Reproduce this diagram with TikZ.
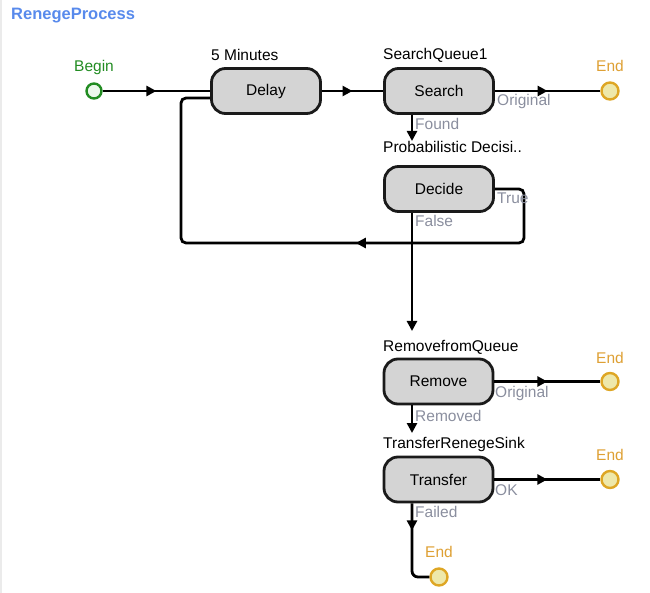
\documentclass[tikz,border=0pt]{standalone}
\usepackage{fontspec}
\setmainfont{Liberation Sans}
\usetikzlibrary{arrows.meta,decorations.markings,positioning}

\definecolor{titleblue}{RGB}{88,138,236}
\definecolor{begingreen}{RGB}{34,140,34}
\definecolor{beginfill}{RGB}{236,248,236}
\definecolor{endgold}{RGB}{222,166,36}
\definecolor{endfill}{RGB}{238,232,170}
\definecolor{endtext}{RGB}{222,160,52}
\definecolor{portgray}{RGB}{138,142,158}
\definecolor{boxfill}{RGB}{212,212,212}
\definecolor{boxline}{RGB}{26,26,26}

\tikzset{
  step box/.style={draw=boxline, fill=boxfill, line width=2.8pt,
    rounded corners=14pt, minimum width=109pt, minimum height=45pt,
    font=\fontsize{15.5}{18}\selectfont, text=black},
  beginpt/.style={circle, draw=begingreen, fill=beginfill, line width=2.4pt,
    minimum size=15pt, inner sep=0pt},
  endpt/.style={circle, draw=endgold, fill=endfill, line width=2.4pt,
    minimum size=17pt, inner sep=0pt},
  lbl/.style={font=\fontsize{15.5}{18}\selectfont, inner sep=0pt,
    text height=11pt, text depth=3pt},
  namelbl/.style={lbl, anchor=west, text=black},
  portlbl/.style={lbl, anchor=west, text=portgray},
  endlbl/.style={lbl, text=endtext},
  flow/.style={draw=black, line width=2.8pt},
  tipend/.style={-{Triangle[length=10pt,width=10pt]}},
  arrowat/.style={postaction={decorate, decoration={markings,
    mark=at position #1 with {\arrow{Triangle[length=10pt,width=10pt]}}}}}
}

\begin{document}
\begin{tikzpicture}[x=1pt,y=-1pt]
\useasboundingbox (0,0) rectangle (650,593);
\draw[black!8, line width=2pt] (1,0) -- (1,593);

% title
\node[lbl, anchor=west, text=titleblue, font=\fontsize{16.5}{19}\selectfont\bfseries] (title) at (11,16) {RenegeProcess};

% steps
\node[beginpt] (begin) at (94,91) {};
\node[lbl, text=begingreen] (beginlbl) at (94,68) {Begin};

\node[step box] (delay) at (266,91) {Delay};
\node[namelbl] (delayname) at (211,57) {5 Minutes};

\node[step box] (search) at (439,91) {Search};
\node[namelbl] (searchname) at (383,56) {SearchQueue1};

\node[step box] (decide) at (439,189) {Decide};
\node[namelbl] (decidename) at (383,149) {Probabilistic Decisi..};

\node[step box] (remove) at (438.5,381.5) {Remove};
\node[namelbl] (removename) at (383,347) {RemovefromQueue};

\node[step box] (transfer) at (438.5,479.5) {Transfer};
\node[namelbl] (transfername) at (383,444) {TransferRenegeSink};

% end points
\node[endpt] (endA) at (610,91) {};
\node[endlbl] (endAlbl) at (610,68) {End};
\node[endpt] (endB) at (610,381.5) {};
\node[endlbl] (endBlbl) at (610,359) {End};
\node[endpt] (endC) at (610,479.5) {};
\node[endlbl] (endClbl) at (610,456) {End};
\node[endpt] (endD) at (439,577) {};
\node[endlbl] (endDlbl) at (439,553) {End};

% free ends and bends
\coordinate (foundtip) at (412,141);
\coordinate (falsetip) at (412,331);
\coordinate (removedtip) at (412,433);
\coordinate (failbend) at (412,577);
\coordinate (trueA) at (524,243);
\coordinate (trueB) at (181,243);
\coordinate (trueC) at (181,98);

% connectors
\draw[flow, arrowat=0.5] (begin.east) -- (delay.west);
\draw[flow, arrowat=0.5] (delay.east) -- (search.west);
\draw[flow, arrowat=0.5] (search.east) -- (endA.west);
\draw[flow, tipend] (search.south -| foundtip) -- (foundtip);
\draw[flow, rounded corners=5pt, arrowat=247pt] (decide.east) -| (trueA) -- (trueB) -- (trueC) -- (delay.west |- trueC);
\draw[flow, tipend] (decide.south -| falsetip) -- (falsetip);
\draw[flow, arrowat=0.5] (remove.east) -- (endB.west);
\draw[flow, tipend] (remove.south -| removedtip) -- (removedtip);
\draw[flow, arrowat=0.5] (transfer.east) -- (endC.west);
\draw[flow, rounded corners=6pt, arrowat=27pt] (transfer.south -| failbend) -- (failbend) -- (endD.west);

% port labels
\node[portlbl] (found) at (415,126) {Found};
\node[portlbl] (orig1) at (497,102) {Original};
\node[portlbl] (true) at (497,200) {True};
\node[portlbl] (false) at (415,223) {False};
\node[portlbl] (orig2) at (495,393) {Original};
\node[portlbl] (removed) at (415,417) {Removed};
\node[portlbl] (ok) at (495,491) {OK};
\node[portlbl] (failed) at (415,513) {Failed};
\end{tikzpicture}
\end{document}
